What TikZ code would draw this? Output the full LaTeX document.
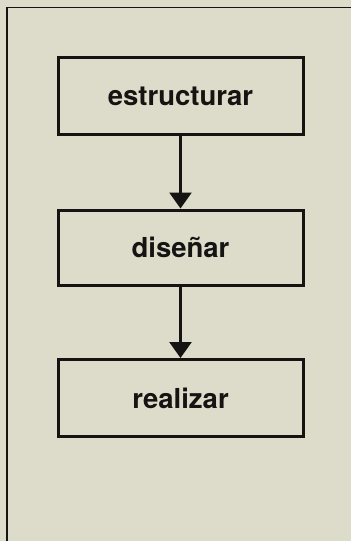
\documentclass[tikz,border=0pt]{standalone}
\usepackage{fontspec}
\setmainfont{TeX Gyre Heros}
\usetikzlibrary{arrows.meta}

\definecolor{paper}{RGB}{221,219,201}
\definecolor{ink}{RGB}{22,20,18}

\tikzset{
    stagebox/.style={draw=ink, line width=3pt, minimum width=245pt, minimum height=77pt,
        font=\fontsize{27.5}{32}\selectfont\bfseries, text=ink},
    flowarrow/.style={draw=ink, line width=2.6pt, -{Triangle[width=22pt, length=16pt]}},
}

\begin{document}
\begin{tikzpicture}[x=1pt, y=-1pt]
    \fill[paper] (0, 0) rectangle (351, 541);
    \useasboundingbox (0, 0) rectangle (351, 541);
    \draw[ink, line width=1.5pt] (7, 541) -- (7, 7.5) -- (351, 7.5);

    \node[stagebox] (estructurar) at (180.5, 96) {estructurar};
    \node[stagebox, minimum height=75pt] (disenar) at (180.5, 247.5) {diseñar};
    \node[stagebox] (realizar) at (180.5, 398) {realizar};

    \draw[flowarrow] (estructurar) -- (disenar);
    \draw[flowarrow] (disenar) -- (realizar);
\end{tikzpicture}
\end{document}
